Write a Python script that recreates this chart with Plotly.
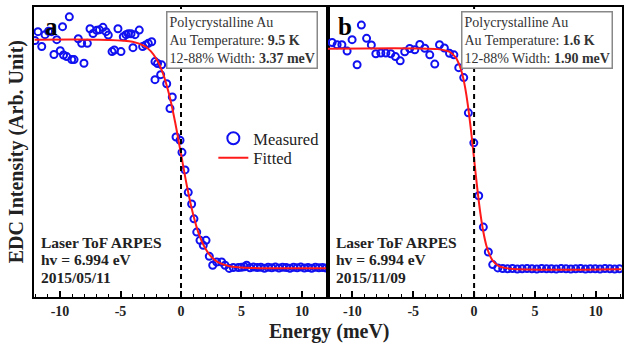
import plotly.graph_objects as go

# ---- Panel a: 2015/05/11, Au at 9.5 K ----
energy_a = [-12.07, -11.82, -11.51, -11.24, -10.95, -10.69, -10.50, -10.27, -9.98, -9.79,
            -9.71, -9.45, -9.23, -9.03, -8.84, -8.49, -8.21, -8.02, -7.74, -7.52,
            -7.27, -6.97, -6.74, -6.45, -6.20, -6.01, -5.70, -5.51, -5.21, -4.96,
            -4.77, -4.55, -4.36, -4.13, -3.97, -3.80, -3.45, -3.17, -2.92, -2.70,
            -2.42, -2.15, -2.15, -1.94, -1.68, -1.60, -1.18, -0.91, -0.72, -0.41,
            -0.08, 0.08, 0.33, 0.60, 0.88, 1.07, 1.30, 1.57, 1.84, 2.07,
            2.34, 2.62, 2.95, 3.36, 3.64, 3.99, 4.32, 4.74, 5.00, 5.25,
            5.43, 5.70, 6.00, 6.30, 6.60, 6.90, 7.20, 7.50, 7.80, 8.10,
            8.40, 8.70, 9.00, 9.30, 9.60, 9.90, 10.20, 10.50, 10.80, 11.10,
            11.40, 11.70, 12.00]
measured_a = [0.996, 1.035, 0.970, 1.022, 1.037, 1.035, 0.935, 1.000, 0.952, 1.057,
              0.933, 0.926, 1.100, 0.913, 0.913, 1.004, 0.984, 0.897, 0.984, 1.048,
              1.027, 1.041, 1.043, 1.054, 1.035, 1.020, 0.948, 0.955, 1.048, 0.948,
              1.013, 1.022, 1.026, 1.026, 0.965, 1.022, 1.042, 0.970, 0.977, 0.984,
              0.991, 0.904, 0.825, 0.896, 0.847, 0.890, 0.807, 0.699, 0.749, 0.574,
              0.560, 0.507, 0.430, 0.332, 0.281, 0.216, 0.158, 0.122, 0.100, 0.122,
              0.052, 0.013, 0.027, 0.027, 0.013, -0.001, 0.003, 0.003, 0.004, 0.006,
              0.013, 0.002, 0.005, 0.003, 0.004, 0.000, 0.004, 0.002, 0.005, 0.001,
              0.004, 0.003, 0.000, 0.004, 0.002, 0.005, 0.001, 0.003, 0.000, 0.004,
              0.002, 0.003, 0.001]
fit_energy_a = [-12.1, -6.0, -4.0, -3.0, -2.5, -2.0, -1.5, -1.0, -0.5, 0.0,
                0.5, 1.0, 1.5, 2.0, 2.5, 3.0, 4.0, 6.0, 12.1]
fit_a = [1.000, 0.999, 0.991, 0.972, 0.950, 0.913, 0.854, 0.764, 0.643, 0.500,
         0.357, 0.236, 0.146, 0.087, 0.050, 0.028, 0.009, 0.001, 0.000]

# ---- Panel b: 2015/11/09, Au at 1.6 K ----
energy_b = [-11.66, -11.25, -10.86, -10.43, -10.02, -9.61, -9.26, -8.83, -8.44, -8.07,
            -7.66, -7.25, -6.84, -6.46, -6.07, -5.70, -5.29, -4.87, -4.46, -4.05,
            -3.64, -3.23, -2.84, -2.44, -2.02, -1.66, -1.26, -0.85, -0.47, -0.02,
            0.38, 0.76, 1.17, 1.53, 1.95, 2.35, 2.75, 3.15, 3.55, 3.95,
            4.35, 4.75, 5.15, 5.55, 5.95, 6.35, 6.75, 7.15, 7.55, 7.95,
            8.35, 8.75, 9.15, 9.55, 9.95, 10.35, 10.75, 11.15, 11.55, 11.95]
measured_b = [1.028, 1.018, 1.018, 0.989, 1.041, 0.927, 1.107, 1.047, 1.017, 0.977,
              0.980, 0.980, 0.977, 0.964, 0.945, 0.986, 1.001, 0.995, 1.019, 1.002,
              0.972, 0.930, 1.018, 1.003, 0.979, 0.972, 0.914, 0.869, 0.709, 0.573,
              0.333, 0.191, 0.078, 0.021, 0.006, 0.003, 0.002, 0.003, 0.001, 0.002,
              0.003, 0.002, 0.001, 0.003, 0.002, 0.002, 0.001, 0.003, 0.002, 0.001,
              0.002, 0.003, 0.001, 0.002, 0.002, 0.001, 0.003, 0.002, 0.001, 0.002]
fit_energy_b = [-12.0, -3.0, -2.0, -1.5, -1.25, -1.0, -0.75, -0.5, -0.25, 0.0,
                0.25, 0.5, 0.75, 1.0, 1.25, 1.5, 2.0, 3.0, 12.1]
fit_b = [1.000, 0.998, 0.985, 0.959, 0.932, 0.891, 0.828, 0.740, 0.628, 0.500,
         0.372, 0.260, 0.172, 0.109, 0.068, 0.041, 0.015, 0.002, 0.000]

x_ticks = [-10, -5, 0, 5, 10]
panel_letters = ["a", "b"]
temperatures = ["9.5 K", "1.6 K"]
widths = ["3.37 meV", "1.90 meV"]
dates = ["2015/05/11", "2015/11/09"]

SERIF = "Liberation Serif, Times New Roman, serif"
BLUE = "#1010f0"
RED = "#ff1a1a"

fig = go.Figure()

fig.add_trace(go.Scatter(x=energy_a, y=measured_a, mode="markers", name="Measured",
                         marker=dict(symbol="circle-open", size=7, color=BLUE,
                                     line=dict(width=2, color=BLUE)),
                         xaxis="x", yaxis="y", legend="legend"))
fig.add_trace(go.Scatter(x=fit_energy_a, y=fit_a, mode="lines", name="Fitted",
                         line=dict(color=RED, width=2, shape="spline", smoothing=0.8),
                         xaxis="x", yaxis="y", legend="legend2"))
fig.add_trace(go.Scatter(x=energy_b, y=measured_b, mode="markers", showlegend=False,
                         marker=dict(symbol="circle-open", size=7, color=BLUE,
                                     line=dict(width=2, color=BLUE)),
                         xaxis="x2", yaxis="y2"))
fig.add_trace(go.Scatter(x=fit_energy_b, y=fit_b, mode="lines", showlegend=False,
                         line=dict(color=RED, width=2, shape="spline", smoothing=0.8),
                         xaxis="x2", yaxis="y2"))

xaxis_common = dict(
    showline=True, linecolor="black", linewidth=2, mirror=True,
    showgrid=False, zeroline=False,
    tickmode="array", tickvals=x_ticks, ticktext=[f"<b>{t}</b>" for t in x_ticks],
    ticks="inside", ticklen=6, tickwidth=1.5, tickcolor="black",
    minor=dict(dtick=1, tick0=0, ticks="inside", ticklen=3, tickwidth=1.2, tickcolor="black"),
    tickfont=dict(family=SERIF, size=14, color="#222"),
)
yaxis_common = dict(
    showline=True, linecolor="black", linewidth=2, mirror=True,
    showgrid=False, zeroline=False, showticklabels=False, ticks="",
)

legend_font = dict(family=SERIF, size=16.5, color="#222")
fig.update_layout(
    width=629, height=344,
    margin=dict(l=34, r=7, t=5, b=47),
    paper_bgcolor="white", plot_bgcolor="white",
    xaxis=dict(domain=[0, 0.5], range=[-12.15, 12.15], anchor="y", **xaxis_common),
    xaxis2=dict(domain=[0.5, 1], range=[-12.0, 12.15], anchor="y2", **xaxis_common),
    yaxis=dict(domain=[0, 1], range=[-0.126, 1.143], anchor="x", **yaxis_common),
    yaxis2=dict(domain=[0, 1], range=[-0.126, 1.189], anchor="x2", **yaxis_common),
    showlegend=True,
    legend=dict(x=0.305, y=0.607, xanchor="left", yanchor="top",
                bgcolor="rgba(0,0,0,0)", borderwidth=0, font=legend_font,
                itemsizing="constant"),
    legend2=dict(x=0.305, y=0.540, xanchor="left", yanchor="top",
                 bgcolor="rgba(0,0,0,0)", borderwidth=0, font=legend_font,
                 itemsizing="trace"),
)

# Fermi-level markers
for xr in ["x", "x2"]:
    fig.add_shape(type="line", xref=xr, yref="paper", x0=0, x1=0, y0=0, y1=1,
                  line=dict(color="black", width=2, dash="5px,4px"))

annotations = []
box_axis = ["x", "x2"]
box_left = [-1.2, -1.1]
letter_x = [0.015, 0.513]
note_x = [0.009, 0.511]
note_y_px = [242, 259.5, 277]
for i in range(2):
    annotations.append(dict(
        xref="paper", yref="paper", x=letter_x[i], y=0.985, xanchor="left", yanchor="top",
        text=f"<b>{panel_letters[i]}</b>", showarrow=False,
        font=dict(family=SERIF, size=25, color="black")))
    annotations.append(dict(
        xref=box_axis[i], yref="paper", x=box_left[i], y=0.986, xanchor="left", yanchor="top",
        text=("Polycrystalline Au<br>"
              f"Au Temperature: <b>{temperatures[i]}</b><br>"
              f"12-88% Width: <b>{widths[i]}</b>"),
        align="left", showarrow=False, bgcolor="white",
        bordercolor="#888", borderwidth=1.5, borderpad=2,
        font=dict(family=SERIF, size=14, color="#333")))
    note_lines = ["Laser ToF ARPES", "hv = 6.994 eV", dates[i]]
    for line, ypx in zip(note_lines, note_y_px):
        annotations.append(dict(
            xref="paper", yref="paper", x=note_x[i], y=1 - (ypx - 5) / 292,
            xanchor="left", yanchor="middle",
            text=f"<b>{line}</b>", align="left", showarrow=False,
            font=dict(family=SERIF, size=15.5, color="#222")))

annotations.append(dict(
    xref="paper", yref="paper", x=0.503, y=-0.072, xanchor="center", yanchor="top",
    text="<b>Energy (meV)</b>", showarrow=False,
    font=dict(family=SERIF, size=20, color="#222")))
annotations.append(dict(
    xref="paper", yref="paper", x=-0.03, y=0.5, xanchor="center", yanchor="middle",
    text="<b>EDC Intensity (Arb. Unit)</b>", textangle=-90, showarrow=False,
    font=dict(family=SERIF, size=20, color="#222")))

fig.update_layout(annotations=annotations)

fig.write_html("out.html")
